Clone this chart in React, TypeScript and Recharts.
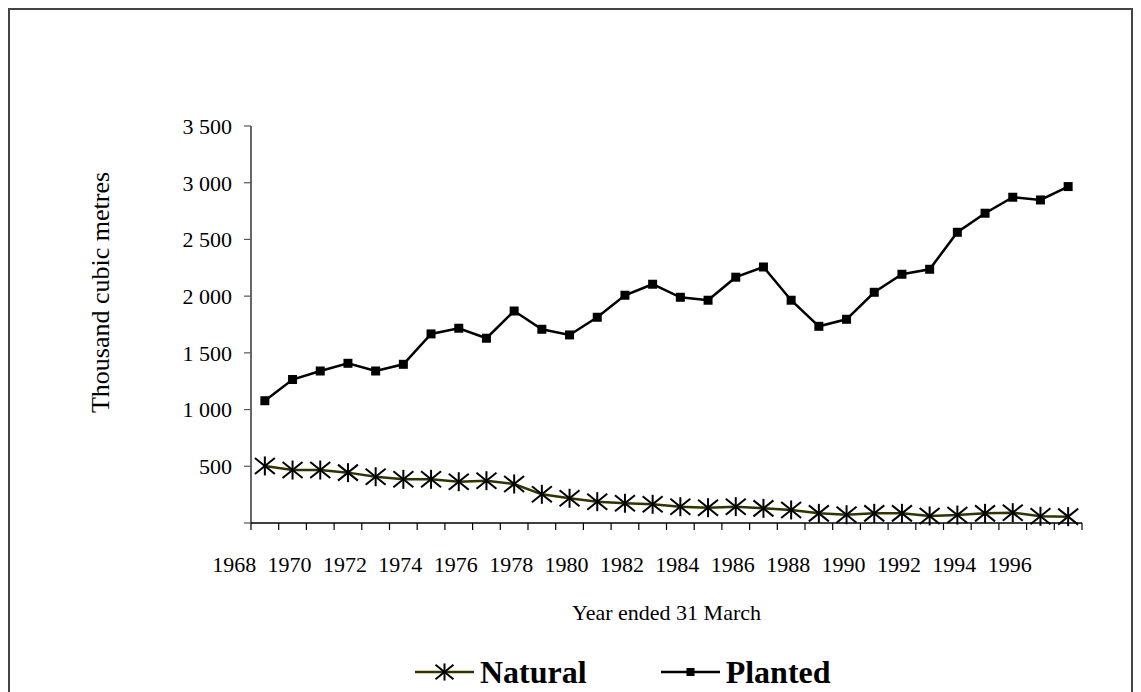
import { LineChart, Line, XAxis, YAxis, Legend } from 'recharts'

// year ended 31 March
const years = [
  1969, 1970, 1971, 1972, 1973, 1974, 1975, 1976, 1977, 1978,
  1979, 1980, 1981, 1982, 1983, 1984, 1985, 1986, 1987, 1988,
  1989, 1990, 1991, 1992, 1993, 1994, 1995, 1996, 1997, 1998,
]

// thousand cubic metres
const natural = [
  503, 467, 467, 444, 408, 385, 385, 364, 373, 344,
  253, 218, 188, 174, 165, 144, 135, 144, 129, 115,
  85, 73, 85, 85, 62, 70, 85, 91, 59, 56,
]

const planted = [
  1078, 1265, 1340, 1408, 1340, 1399, 1667, 1717, 1629, 1869,
  1708, 1658, 1814, 2008, 2105, 1990, 1964, 2167, 2257, 1964,
  1734, 1796, 2034, 2193, 2237, 2563, 2731, 2872, 2848, 2966,
]

const yTicks = [0, 500, 1000, 1500, 2000, 2500, 3000, 3500]
const xLabels = [
  '1968', '1970', '1972', '1974', '1976', '1978', '1980', '1982',
  '1984', '1986', '1988', '1990', '1992', '1994', '1996',
]

const data = years.map((year, i) => ({ year, natural: natural[i], planted: planted[i] }))
// tick marks sit between the years, like a category axis
const xTicks = [...years.map((y) => y - 0.5), years[years.length - 1] + 0.5]

const W = 1121
const H = 690
const Y_AXIS_W = 60
const margin = { top: 116, right: 49, left: 181, bottom: 117 }
const plotW = W - margin.left - Y_AXIS_W - margin.right
const halfStep = plotW / years.length / 2
const FONT = '"Liberation Serif", "Times New Roman", Times, serif'

const fmt = (v: number) => {
  if (v === 0) return ''
  if (v < 1000) return String(v)
  return `${Math.floor(v / 1000)} ${String(v % 1000).padStart(3, '0')}`
}

function Asterisk({ cx, cy, r }: { cx: number; cy: number; r: number }) {
  return (
    <g stroke="#000" strokeWidth={2}>
      <line x1={cx} y1={cy - r * 0.95} x2={cx} y2={cy + r * 0.95} />
      <line x1={cx - r} y1={cy - r * 0.8} x2={cx + r} y2={cy + r * 0.8} />
      <line x1={cx - r} y1={cy + r * 0.8} x2={cx + r} y2={cy - r * 0.8} />
    </g>
  )
}

function XTick({ x, y, payload }: any) {
  const label = String(payload.value - 0.5)
  return (
    <g>
      <line x1={x} x2={x} y1={y} y2={y + 7} stroke="#000" strokeWidth={1.2} />
      {xLabels.includes(label) && (
        <text
          x={x - halfStep - 3}
          y={y + 41}
          textAnchor="middle"
          dominantBaseline="central"
          fontSize={22}
          fontFamily={FONT}
          fill="#000"
        >
          {label}
        </text>
      )}
    </g>
  )
}

function YTitle({ viewBox }: any) {
  const cx = viewBox.x + viewBox.width - 151
  const cy = viewBox.y + viewBox.height / 2 - 32
  return (
    <text
      x={cx}
      y={cy}
      transform={`rotate(-90 ${cx} ${cy})`}
      textAnchor="middle"
      dominantBaseline="central"
      fontSize={26}
      fontFamily={FONT}
      fill="#000"
    >
      Thousand cubic metres
    </text>
  )
}

function XTitle({ viewBox }: any) {
  return (
    <text
      x={viewBox.x + viewBox.width / 2}
      y={viewBox.y + 89}
      textAnchor="middle"
      dominantBaseline="central"
      fontSize={22}
      fontFamily={FONT}
      fill="#000"
    >
      Year ended 31 March
    </text>
  )
}

function LegendContent({ payload }: any) {
  return (
    <div
      style={{
        display: 'flex',
        alignItems: 'center',
        paddingLeft: 405,
        fontFamily: FONT,
        fontWeight: 'bold',
        fontSize: 32,
        lineHeight: '36px',
      }}
    >
      {(payload || []).map((p: any, i: number) => (
        <div key={p.value} style={{ display: 'flex', alignItems: 'center', marginLeft: i ? 74 : 0 }}>
          <svg width={59} height={24}>
            <line x1={0} x2={59} y1={12} y2={12} stroke={p.color} strokeWidth={2.5} />
            {p.dataKey === 'natural' ? (
              <Asterisk cx={29.5} cy={12} r={9} />
            ) : (
              <rect x={25.5} y={8} width={8} height={8} fill="#000" />
            )}
          </svg>
          <span style={{ marginLeft: 6 }}>{p.value}</span>
        </div>
      ))}
    </div>
  )
}

export default function App() {
  return (
    <div style={{ width: W, height: 700, border: '2px solid #444', background: '#fff' }}>
      <style>{'html, body { overflow: hidden; }'}</style>
      <LineChart width={W} height={H} data={data} margin={margin}>
        <XAxis
          dataKey="year"
          type="number"
          domain={[xTicks[0], xTicks[xTicks.length - 1]]}
          ticks={xTicks}
          interval={0}
          height={60}
          tickSize={0}
          tickMargin={0}
          tickLine={false}
          tick={<XTick />}
          axisLine={{ stroke: '#000', strokeWidth: 1.5 }}
          label={<XTitle />}
        />
        <YAxis
          type="number"
          domain={[0, 3500]}
          ticks={yTicks}
          interval={0}
          width={Y_AXIS_W}
          tickSize={7}
          tickMargin={12}
          tickFormatter={fmt}
          tick={{ fill: '#000', fontSize: 22, fontFamily: FONT }}
          tickLine={{ stroke: '#555', strokeWidth: 1.2 }}
          axisLine={{ stroke: '#000', strokeWidth: 1.2 }}
          label={<YTitle />}
        />
        <Legend
          layout="horizontal"
          verticalAlign="middle"
          align="center"
          wrapperStyle={{ top: 644, left: 0, width: W }}
          content={<LegendContent />}
        />
        <Line
          type="linear"
          dataKey="natural"
          name="Natural"
          stroke="#333300"
          strokeWidth={2.5}
          dot={(props: any) => <Asterisk key={props.index} cx={props.cx} cy={props.cy} r={10} />}
          isAnimationActive={false}
        />
        <Line
          type="linear"
          dataKey="planted"
          name="Planted"
          stroke="#000"
          strokeWidth={2.5}
          dot={(props: any) => (
            <rect key={props.index} x={props.cx - 4.5} y={props.cy - 4.5} width={9} height={9} fill="#000" />
          )}
          isAnimationActive={false}
        />
      </LineChart>
    </div>
  )
}
